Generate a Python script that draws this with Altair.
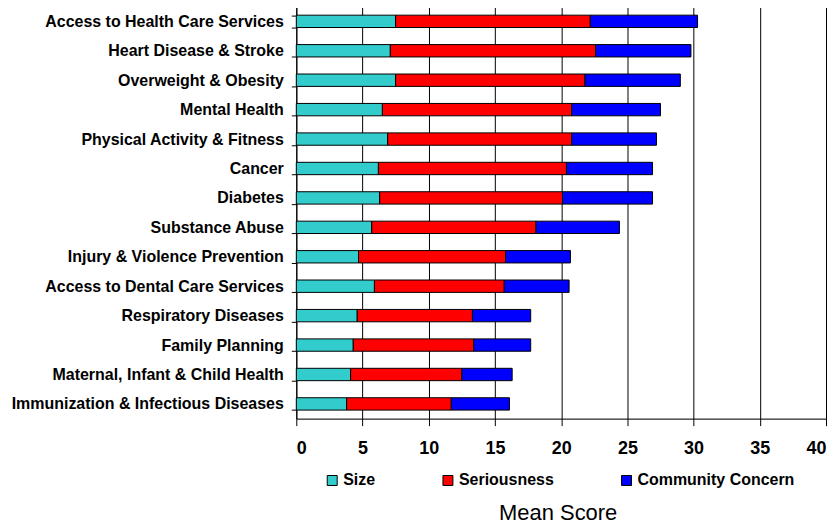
import altair as alt
import pandas as pd

categories = [
    "Access to Health Care Services",
    "Heart Disease & Stroke",
    "Overweight & Obesity",
    "Mental Health",
    "Physical Activity & Fitness",
    "Cancer",
    "Diabetes",
    "Substance Abuse",
    "Injury & Violence Prevention",
    "Access to Dental Care Services",
    "Respiratory Diseases",
    "Family Planning",
    "Maternal, Infant & Child Health",
    "Immunization & Infectious Diseases",
]
size_vals = [7.5, 7.1, 7.5, 6.5, 6.9, 6.2, 6.3, 5.7, 4.7, 5.9, 4.6, 4.3, 4.1, 3.8]
serious_vals = [14.7, 15.5, 14.3, 14.3, 13.9, 14.2, 13.8, 12.4, 11.1, 9.8, 8.7, 9.1, 8.4, 7.9]
concern_vals = [8.1, 7.2, 7.2, 6.7, 6.4, 6.5, 6.8, 6.3, 4.9, 4.9, 4.4, 4.3, 3.8, 4.4]
series = ["Size", "Seriousness", "Community Concern"]
colors = ["#33CCCC", "#FF0000", "#0000FF"]
x_ticks = [0, 5, 10, 15, 20, 25, 30, 35, 40]

rows = []
for i, c in enumerate(categories):
    for j, (s, vals) in enumerate(zip(series, [size_vals, serious_vals, concern_vals])):
        rows.append({"category": c, "series": s, "value": vals[i], "order": j})
df = pd.DataFrame(rows)

FONT = "Liberation Sans"

chart = alt.Chart(df).mark_bar(stroke="black", strokeWidth=1).encode(
    y=alt.Y(
        "category:N",
        sort=categories,
        scale=alt.Scale(paddingInner=0.58, paddingOuter=0.29),
        axis=alt.Axis(
            title=None,
            labelFont=FONT,
            labelFontSize=16,
            labelFontWeight="bold",
            labelColor="black",
            labelLimit=400,
            labelPadding=8,
            tickBand="extent",
            tickSize=5,
            tickColor="black",
            domainColor="black",
            grid=False,
        ),
    ),
    x=alt.X(
        "value:Q",
        stack="zero",
        scale=alt.Scale(domain=[0, 40], nice=False),
        axis=alt.Axis(
            values=x_ticks,
            title="Mean Score",
            titleFont=FONT,
            titleFontSize=22,
            titleFontWeight="normal",
            titleColor="black",
            titleX=262,
            titleY=101,
            titleAlign="center",
            titleBaseline="alphabetic",
            labelFont=FONT,
            labelFontSize=18,
            labelFontWeight="bold",
            labelColor="black",
            labelPadding=14,
            tickSize=7,
            tickColor="black",
            domainColor="black",
            grid=True,
            gridColor="black",
            gridOpacity=1,
            gridWidth=1,
        ),
    ),
    color=alt.Color(
        "series:N",
        sort=series,
        scale=alt.Scale(domain=series, range=colors),
        legend=alt.Legend(
            title=None,
            orient="none",
            direction="horizontal",
            legendX=28,
            legendY=467,
            symbolType="square",
            symbolSize=100,
            symbolStrokeColor="black",
            symbolStrokeWidth=1,
            symbolOpacity=1,
            labelFont=FONT,
            labelFontSize=16,
            labelFontWeight="bold",
            labelColor="black",
            columnPadding=64,
            labelOffset=3,
        ),
    ),
    order=alt.Order("order:Q"),
).properties(
    width=531,
    height=413,
    padding={"left": 3, "top": -10, "right": 5, "bottom": 0},
).configure_view(
    stroke="black", strokeWidth=1
).configure(background="white")

chart.save("out.html", embed_options={"renderer": "svg", "actions": False})
